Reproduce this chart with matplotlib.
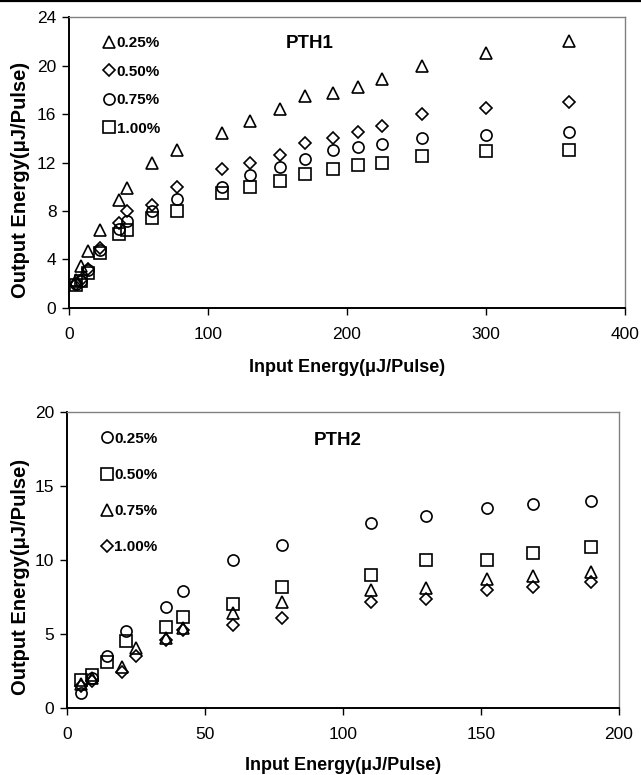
import matplotlib
matplotlib.use("Agg")
import matplotlib.pyplot as plt
from matplotlib.lines import Line2D

plt.rcParams['font.family'] = ['Liberation Sans', 'DejaVu Sans']

# PTH1 data
x1 = [5, 9, 14, 22, 36, 42, 60, 78, 110, 130, 152, 170, 190, 208, 225, 254, 300, 360]
pth1_025 = [2.3, 3.5, 4.7, 6.4, 8.9, 9.9, 12.0, 13.0, 14.4, 15.4, 16.4, 17.5, 17.7, 18.2, 18.9, 20.0, 21.0, 22.0]
pth1_050 = [2.0, 2.3, 3.2, 4.95, 7.0, 8.0, 8.5, 10.0, 11.5, 12.0, 12.6, 13.6, 14.0, 14.5, 15.0, 16.0, 16.5, 17.0]
pth1_075 = [2.0, 2.2, 3.15, 4.8, 6.5, 7.2, 8.0, 9.0, 10.0, 11.0, 11.6, 12.3, 13.0, 13.25, 13.55, 14.05, 14.3, 14.5]
pth1_100 = [1.9, 2.2, 2.9, 4.5, 6.1, 6.45, 7.4, 8.0, 9.5, 10.0, 10.5, 11.05, 11.5, 11.8, 12.0, 12.5, 12.95, 13.0]

# PTH2 data
x2_a = [5, 9, 14.5, 21.5, 36, 42, 60, 78, 110, 130, 152, 169, 190]
x2_b = [5, 9, 20, 25, 36, 42, 60, 78, 110, 130, 152, 169, 190]
pth2_025 = [1.0, 2.0, 3.5, 5.2, 6.8, 7.9, 10.0, 11.0, 12.5, 13.0, 13.5, 13.8, 14.0]
pth2_050 = [1.9, 2.25, 3.1, 4.5, 5.5, 6.15, 7.0, 8.2, 9.0, 10.0, 10.0, 10.5, 10.9]
pth2_075 = [1.6, 2.05, 2.8, 4.05, 4.7, 5.4, 6.4, 7.2, 7.95, 8.1, 8.7, 8.9, 9.2]
pth2_100 = [1.5, 1.85, 2.4, 3.5, 4.6, 5.25, 5.6, 6.1, 7.2, 7.35, 7.95, 8.2, 8.5]

labels = ['0.25%', '0.50%', '0.75%', '1.00%']

mk = dict(linestyle='none', markerfacecolor='none', markeredgecolor='black',
          markersize=8, markeredgewidth=1.2)


def style_axes(ax, xlab_y, ylab_x, ylab_y):
    for s in ['top', 'right']:
        ax.spines[s].set_color('#808080')
        ax.spines[s].set_linewidth(1.0)
    for s in ['left', 'bottom']:
        ax.spines[s].set_color('black')
        ax.spines[s].set_linewidth(1.4)
    ax.tick_params(axis='both', direction='out', length=5, width=1.0, labelsize=12.5)
    ax.tick_params(axis='x', pad=9)
    ax.tick_params(axis='y', pad=4)
    ax.set_xlabel('Input Energy(μJ/Pulse)', fontsize=13, fontweight='bold', va='center')
    ax.set_ylabel('Output Energy(μJ/Pulse)', fontsize=14.5, fontweight='bold', va='center')
    ax.xaxis.set_label_coords(0.5, xlab_y)
    ax.yaxis.set_label_coords(ylab_x, ylab_y)


fig = plt.figure(figsize=(6.41, 7.75), dpi=100)
fig.add_artist(Line2D([0, 1], [0.9985, 0.9985], color='black', linewidth=1.6,
                      transform=fig.transFigure))

ax1 = fig.add_axes([0.1076, 0.6026, 0.8674, 0.3754])
ax1.plot(x1, pth1_025, marker='^', label=labels[0], **mk)
ax1.plot(x1, pth1_050, marker='D', label=labels[1], **dict(mk, markersize=6.5))
ax1.plot(x1, pth1_075, marker='o', label=labels[2], **mk)
ax1.plot(x1, pth1_100, marker='s', label=labels[3], **mk)
ax1.set_xlim(0, 400)
ax1.set_ylim(0, 24)
ax1.set_xticks([0, 100, 200, 300, 400])
ax1.set_yticks([0, 4, 8, 12, 16, 20, 24])
style_axes(ax1, -0.206, -0.088, 0.44)
ax1.legend(loc='upper left', bbox_to_anchor=(0.05, 0.955), frameon=False,
           handlelength=0.8, handletextpad=0.1, labelspacing=0.95,
           prop={'weight': 'bold', 'size': 11}, borderaxespad=0)
ax1.text(0.433, 0.91, 'PTH1', transform=ax1.transAxes, ha='center', va='center',
         fontsize=13.5, fontweight='bold')

ax2 = fig.add_axes([0.1045, 0.0865, 0.8612, 0.3815])
ax2.plot(x2_a, pth2_025, marker='o', label=labels[0], **mk)
ax2.plot(x2_a, pth2_050, marker='s', label=labels[1], **mk)
ax2.plot(x2_b, pth2_075, marker='^', label=labels[2], **mk)
ax2.plot(x2_b, pth2_100, marker='D', label=labels[3], **dict(mk, markersize=6.5))
ax2.set_xlim(0, 200)
ax2.set_ylim(0, 20)
ax2.set_xticks([0, 50, 100, 150, 200])
ax2.set_yticks([0, 5, 10, 15, 20])
style_axes(ax2, -0.193, -0.085, 0.443)
ax2.legend(loc='upper left', bbox_to_anchor=(0.05, 0.955), frameon=False,
           handlelength=0.8, handletextpad=0.1, labelspacing=1.45,
           prop={'weight': 'bold', 'size': 11}, borderaxespad=0)
ax2.text(0.49, 0.905, 'PTH2', transform=ax2.transAxes, ha='center', va='center',
         fontsize=13.5, fontweight='bold')

fig.savefig('out.png', dpi=100)
